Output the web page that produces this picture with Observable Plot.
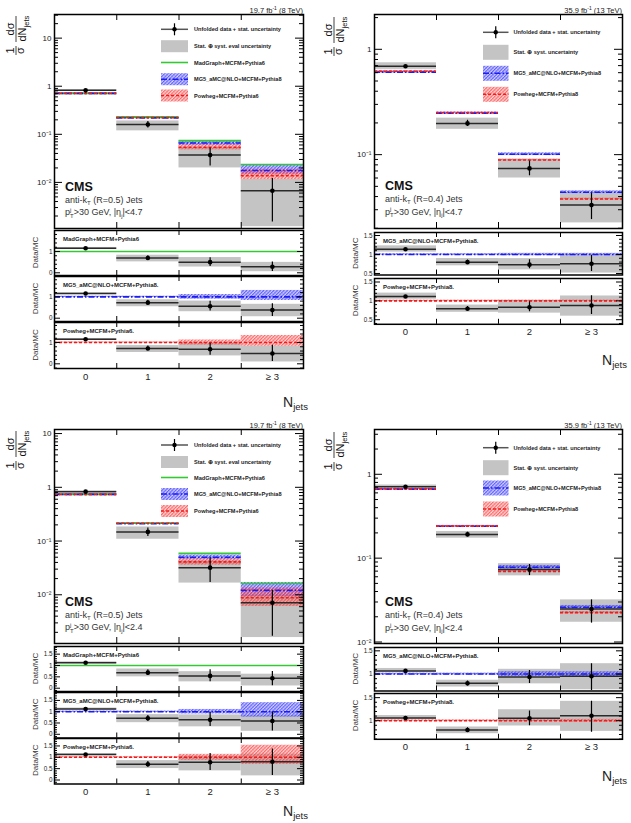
<!DOCTYPE html>
<html>
<head>
<meta charset="utf-8">
<script src="https://cdn.jsdelivr.net/npm/d3@7"></script>
<script src="https://cdn.jsdelivr.net/npm/@observablehq/plot@0.6"></script>
<style>
  html, body { margin: 0; padding: 0; background: #fff; }
  #fig { position: relative; width: 631px; height: 823px; overflow: hidden; background: #fff; }
  #fig svg { position: absolute; overflow: visible; }
</style>
</head>
<body>
<div id="fig"></div>
<script>
// ---------- jet multiplicity bins ----------
const nJets = [0, 1, 2, 3];
const binLabels = ["0", "1", "2", "≥ 3"];

// ---------- 8 TeV, anti-kT R=0.5, |eta|<4.7 ----------
const tlData     = [0.82, 0.160, 0.037, 0.0067];
const tlStatLo   = [0.805, 0.135, 0.022, 0.0015];
const tlStatHi   = [0.835, 0.185, 0.052, 0.0120];
const tlTotLo    = [0.795, 0.118, 0.020, 0.0012];
const tlTotHi    = [0.845, 0.190, 0.053, 0.0115];
const tlMadgraph = [0.71, 0.230, 0.074, 0.0235];
const tlMg5      = [0.71, 0.220, 0.066, 0.0177];
const tlMg5Lo    = [0.97, 0.97, 0.89, 0.83];
const tlMg5Hi    = [1.03, 1.03, 1.11, 1.30];
const tlPowheg   = [0.71, 0.222, 0.054, 0.0138];
const tlPowhegLo = [0.97, 0.97, 0.88, 0.83];
const tlPowhegHi = [1.03, 1.03, 1.12, 1.33];

// ---------- 13 TeV, anti-kT R=0.4, |eta|<4.7 ----------
const trData     = [0.69, 0.198, 0.074, 0.0332];
const trStatLo   = [0.683, 0.185, 0.063, 0.0242];
const trStatHi   = [0.697, 0.212, 0.087, 0.0430];
const trTotLo    = [0.645, 0.174, 0.060, 0.0225];
const trTotHi    = [0.745, 0.222, 0.090, 0.0428];
const trMg5      = [0.607, 0.248, 0.101, 0.0440];
const trMg5Lo    = [0.98, 0.98, 0.97, 0.97];
const trMg5Hi    = [1.02, 1.02, 1.03, 1.03];
const trPowheg   = [0.618, 0.250, 0.089, 0.0379];
const trPowhegLo = [0.98, 0.98, 0.98, 0.98];
const trPowhegHi = [1.02, 1.02, 1.02, 1.02];

// ---------- 8 TeV, anti-kT R=0.5, |eta|<2.4 ----------
const blData     = [0.83, 0.148, 0.032, 0.0071];
const blStatLo   = [0.815, 0.121, 0.017, 0.0017];
const blStatHi   = [0.845, 0.175, 0.048, 0.0120];
const blTotLo    = [0.80, 0.108, 0.0165, 0.0016];
const blTotHi    = [0.86, 0.183, 0.043, 0.0100];
const blMadgraph = [0.74, 0.216, 0.059, 0.0162];
const blMg5      = [0.74, 0.210, 0.050, 0.0121];
const blMg5Lo    = [0.97, 0.97, 0.90, 0.76];
const blMg5Hi    = [1.03, 1.03, 1.10, 1.40];
const blPowheg   = [0.74, 0.214, 0.041, 0.0088];
const blPowhegLo = [0.97, 0.97, 0.87, 0.69];
const blPowhegHi = [1.03, 1.03, 1.13, 1.53];

// ---------- 13 TeV, anti-kT R=0.4, |eta|<2.4 ----------
const brData     = [0.71, 0.192, 0.073, 0.0248];
const brStatLo   = [0.70, 0.180, 0.062, 0.0168];
const brStatHi   = [0.72, 0.204, 0.084, 0.0318];
const brTotLo    = [0.69, 0.173, 0.0615, 0.0172];
const brTotHi    = [0.745, 0.208, 0.086, 0.0318];
const brMg5      = [0.665, 0.240, 0.078, 0.0260];
const brMg5Lo    = [0.98, 0.98, 0.95, 0.95];
const brMg5Hi    = [1.02, 1.02, 1.05, 1.05];
const brPowheg   = [0.670, 0.241, 0.0695, 0.0224];
const brPowhegLo = [0.98, 0.98, 0.98, 0.97];
const brPowhegHi = [1.02, 1.02, 1.02, 1.03];

// ---------- labels ----------
const legend8  = ["Unfolded data + stat. uncertainty", "Stat. ⊕ syst. eval uncertainty",
                  "MadGraph+MCFM+Pythia6", "MG5_aMC@NLO+MCFM+Pythia8", "Powheg+MCFM+Pythia6"];
const legend13 = ["Unfolded data + stat. uncertainty", "Stat. ⊕ syst. uncertainty",
                  "MG5_aMC@NLO+MCFM+Pythia8", "Powheg+MCFM+Pythia8"];
const ratio8   = ["MadGraph+MCFM+Pythia6", "MG5_aMC@NLO+MCFM+Pythia8.", "Powheg+MCFM+Pythia6."];
const ratio13  = ["MG5_aMC@NLO+MCFM+Pythia8.", "Powheg+MCFM+Pythia8."];
const lumi8  = ["19.7 fb", "-1", " (8 TeV)"];
const lumi13 = ["35.9 fb", "-1", " (13 TeV)"];

// ---------- styling ----------
const FONT = "'Liberation Sans', Arial, Helvetica, sans-serif";
const GRAY = "#c4c4c4";
const GREEN = "#34c834";
const BLUE = "#1c1cf0";
const RED = "#f01c1c";
const DASH_BLUE = "6 2 1.5 2";
const DASH_RED = "3 2";

const fig = d3.select("#fig");
const binEdges = nJets.slice(1).map(n => n - 0.5);

function binRows(values, extra) {
  return nJets.map((n, i) => Object.assign({n, lo: n - 0.5, hi: n + 0.5, v: values[i]}, extra ? extra(i) : {}));
}

function logTicks([a, b]) {
  const major = [], minor = [];
  for (let e = Math.floor(Math.log10(a)); e <= Math.ceil(Math.log10(b)); e++) {
    for (let k = 1; k <= 9; k++) {
      const v = k * Math.pow(10, e);
      if (v < a || v > b) continue;
      (k === 1 ? major : minor).push(v);
    }
  }
  return {major, minor};
}
function linTicks([a, b], majorStep, minorStep) {
  const major = [], minor = [];
  const start = Math.ceil(a / minorStep - 1e-9);
  for (let j = start; j * minorStep <= b + 1e-9; j++) {
    const v = Math.round(j * minorStep * 1000) / 1000;
    const q = v / majorStep;
    (Math.abs(q - Math.round(q)) < 1e-6 ? major : minor).push(v);
  }
  return {major, minor};
}
const SUP = {"-": "⁻", "0": "⁰", "1": "¹", "2": "²", "3": "³", "4": "⁴", "5": "⁵", "6": "⁶", "7": "⁷", "8": "⁸", "9": "⁹"};
function decadeLabel(v) {
  const e = Math.round(Math.log10(v));
  if (e === 0) return "1";
  if (e === 1) return "10";
  return "10" + String(e).split("").map(c => SUP[c]).join("");
}

// inward ticks on all four sides (ROOT style)
function frameTicks(W, H, major, minor, lenMaj, lenMin, lenEdge) {
  const s = {stroke: "black", strokeWidth: 1};
  return [
    Plot.ruleY(major, {...s, insetRight: W - lenMaj}),
    Plot.ruleY(major, {...s, insetLeft: W - lenMaj}),
    Plot.ruleY(minor, {...s, insetRight: W - lenMin}),
    Plot.ruleY(minor, {...s, insetLeft: W - lenMin}),
    Plot.ruleX(binEdges, {...s, insetTop: H - lenEdge}),
    Plot.ruleX(binEdges, {...s, insetBottom: H - lenEdge})
  ];
}

function place(svg, left, top) {
  svg.style.left = left + "px";
  svg.style.top = top + "px";
  fig.node().appendChild(svg);
}

function dataRows(q, div) {
  return binRows(q.data.map((v, i) => v / div[i]), i => ({
    sLo: q.statLo[i] / div[i], sHi: q.statHi[i] / div[i],
    tLo: q.totLo[i] / div[i], tHi: q.totHi[i] / div[i]
  }));
}

function mainPanel(q) {
  const W = q.x[1] - q.x[0], H = q.main[1] - q.main[0];
  const m = {l: 36, r: 4, t: 4, b: 4};
  const ones = nJets.map(() => 1);
  const rows = dataRows(q, ones);
  const {major, minor} = logTicks(q.mainDomain);
  const marks = [Plot.rect(rows, {x1: "lo", x2: "hi", y1: "tLo", y2: "tHi", fill: GRAY, clip: true})];
  for (const mod of q.models) {
    if (!mod.relLo) continue;
    const mr = binRows(mod.values, i => ({bLo: mod.values[i] * mod.relLo[i], bHi: mod.values[i] * mod.relHi[i]}));
    marks.push(Plot.rect(mr, {x1: "lo", x2: "hi", y1: "bLo", y2: "bHi", fill: `url(#${mod.pattern})`, clip: true}));
  }
  for (const mod of q.models) {
    marks.push(Plot.ruleY(binRows(mod.values), {y: "v", x1: "lo", x2: "hi", stroke: mod.color,
      strokeWidth: 1.6, strokeDasharray: mod.dash || undefined}));
  }
  marks.push(
    Plot.ruleY(rows, {y: "v", x1: "lo", x2: "hi", stroke: "#2a2a2a", strokeWidth: 1.5}),
    Plot.ruleX(rows, {x: "n", y1: "sLo", y2: "sHi", stroke: "black", strokeWidth: 1.2, clip: true}),
    Plot.dot(rows, {x: "n", y: "v", r: 2.3, fill: "black"}),
    ...frameTicks(W, H, major, minor, 8, 4, 6),
    Plot.text(major, {y: d => d, text: d => decadeLabel(d), frameAnchor: "left", textAnchor: "end",
      dx: -3, fontSize: 8, fill: "#222"}),
    Plot.frame({stroke: "black", strokeWidth: 1.5})
  );
  const svg = Plot.plot({
    width: W + m.l + m.r, height: H + m.t + m.b,
    marginLeft: m.l, marginRight: m.r, marginTop: m.t, marginBottom: m.b,
    x: {domain: [-0.5, 3.5], axis: null},
    y: {type: "log", domain: q.mainDomain, axis: null},
    style: {fontFamily: FONT, background: "transparent", overflow: "visible"},
    marks
  });
  place(svg, q.x[0] - m.l, q.main[0] - m.t);
}

function ratioPanel(q, mod, k, last) {
  const [top, bottom] = q.ratios[k];
  const dom = q.ratioDomains[k];
  const W = q.x[1] - q.x[0], H = bottom - top;
  const m = {l: 36, r: 4, t: 2, b: last ? 24 : 2};
  const rows = dataRows(q, mod.values);
  const {major, minor} = linTicks(dom, q.ratioMajor, 0.1 * (q.ratioMajor >= 1 ? 2 : 1));
  const marks = [Plot.rect(rows, {x1: "lo", x2: "hi", y1: "tLo", y2: "tHi", fill: GRAY, clip: true})];
  if (mod.relLo) {
    const br = binRows(mod.values, i => ({bLo: mod.relLo[i], bHi: mod.relHi[i]}));
    marks.push(Plot.rect(br, {x1: "lo", x2: "hi", y1: "bLo", y2: "bHi", fill: `url(#${mod.pattern})`, clip: true}));
  }
  marks.push(
    Plot.ruleY([1], {stroke: mod.color, strokeWidth: 1.6, strokeDasharray: mod.dash || undefined}),
    Plot.ruleY(rows, {y: "v", x1: "lo", x2: "hi", stroke: "#2a2a2a", strokeWidth: 1.5, clip: true}),
    Plot.ruleX(rows, {x: "n", y1: "sLo", y2: "sHi", stroke: "black", strokeWidth: 1.2, clip: true}),
    Plot.dot(rows, {x: "n", y: "v", r: 2.3, fill: "black", clip: true}),
    ...frameTicks(W, H, major, minor, 6, 3, 5),
    Plot.text(q.ratioLabels, {y: d => d, text: d => String(d), frameAnchor: "left", textAnchor: "end",
      dx: -2, fontSize: 6.3, fill: "#222"}),
    Plot.frame({stroke: "black", strokeWidth: 1.5})
  );
  if (last) {
    marks.push(Plot.text(nJets, {x: d => d, text: d => binLabels[d], frameAnchor: "bottom", dy: 11,
      fontSize: 9.5, fill: "#222"}));
  }
  const svg = Plot.plot({
    width: W + m.l + m.r, height: H + m.t + m.b,
    marginLeft: m.l, marginRight: m.r, marginTop: m.t, marginBottom: m.b,
    x: {domain: [-0.5, 3.5], axis: null},
    y: {domain: dom, axis: null},
    style: {fontFamily: FONT, background: "transparent", overflow: "visible"},
    marks
  });
  place(svg, q.x[0] - m.l, top - m.t);
}

// ---------- panel configurations ----------
const quads = [
  { // 8 TeV |eta|<4.7
    x: [54, 303], main: [14, 228], mainDomain: [0.0011, 31],
    data: tlData, statLo: tlStatLo, statHi: tlStatHi, totLo: tlTotLo, totHi: tlTotHi,
    models: [
      {values: tlMadgraph, color: GREEN, dash: null},
      {values: tlMg5, relLo: tlMg5Lo, relHi: tlMg5Hi, color: BLUE, dash: DASH_BLUE, pattern: "hatchBlue"},
      {values: tlPowheg, relLo: tlPowhegLo, relHi: tlPowhegHi, color: RED, dash: DASH_RED, pattern: "hatchRed"}
    ],
    ratios: [[230, 275], [276, 321], [322, 368]],
    ratioDomains: [[-0.127, 1.986], [-0.155, 1.953], [-0.22, 1.94]],
    ratioMajor: 1, ratioLabels: [0, 1],
    legend: legend8, ratioText: ratio8, lumi: lumi8, R: "0.5", eta: "4.7",
    legendX: [161, 188, 194], legendY: [29.3, 46.2, 62.5, 79.2, 95.5], bandH: 12,
    cmsX: 65, cmsY: 190.5, titleX: 16, titleY: 55, njetsY: 407
  },
  { // 13 TeV |eta|<4.7
    x: [374, 622], main: [14, 228], mainDomain: [0.0199, 2.14],
    data: trData, statLo: trStatLo, statHi: trStatHi, totLo: trTotLo, totHi: trTotHi,
    models: [
      {values: trMg5, relLo: trMg5Lo, relHi: trMg5Hi, color: BLUE, dash: DASH_BLUE, pattern: "hatchBlue"},
      {values: trPowheg, relLo: trPowhegLo, relHi: trPowhegHi, color: RED, dash: DASH_RED, pattern: "hatchRed"}
    ],
    ratios: [[232, 274.5], [277.5, 323.3]],
    ratioDomains: [[0.46, 1.579], [0.378, 1.593]],
    ratioMajor: 0.5, ratioLabels: [0.5, 1, 1.5],
    legend: legend13, ratioText: ratio13, lumi: lumi13, R: "0.4", eta: "4.7",
    legendX: [483, 508.5, 513.5], legendY: [32.3, 52.3, 73.3, 94.3], bandH: 15,
    cmsX: 385, cmsY: 190, titleX: 334, titleY: 56, njetsY: 365
  },
  { // 8 TeV |eta|<2.4
    x: [54, 303], main: [429, 643], mainDomain: [0.00124, 11.9],
    data: blData, statLo: blStatLo, statHi: blStatHi, totLo: blTotLo, totHi: blTotHi,
    models: [
      {values: blMadgraph, color: GREEN, dash: null},
      {values: blMg5, relLo: blMg5Lo, relHi: blMg5Hi, color: BLUE, dash: DASH_BLUE, pattern: "hatchBlue"},
      {values: blPowheg, relLo: blPowhegLo, relHi: blPowhegHi, color: RED, dash: DASH_RED, pattern: "hatchRed"}
    ],
    ratios: [[646, 691], [691.5, 737], [737.5, 783]],
    ratioDomains: [[-0.145, 1.837], [-0.164, 1.85], [-0.176, 1.828]],
    ratioMajor: 0.5, ratioLabels: [0, 0.5, 1, 1.5],
    legend: legend8, ratioText: ratio8, lumi: lumi8, R: "0.5", eta: "2.4",
    legendX: [161, 188, 194], legendY: [445, 462, 477.5, 494, 511], bandH: 12,
    cmsX: 65, cmsY: 605.7, titleX: 16, titleY: 470, njetsY: 816
  },
  { // 13 TeV |eta|<2.4
    x: [374, 622], main: [429, 643], mainDomain: [0.0096, 3.42],
    data: brData, statLo: brStatLo, statHi: brStatHi, totLo: brTotLo, totHi: brTotHi,
    models: [
      {values: brMg5, relLo: brMg5Lo, relHi: brMg5Hi, color: BLUE, dash: DASH_BLUE, pattern: "hatchBlue"},
      {values: brPowheg, relLo: brPowhegLo, relHi: brPowhegHi, color: RED, dash: DASH_RED, pattern: "hatchRed"}
    ],
    ratios: [[647, 690.5], [692.5, 738.3]],
    ratioDomains: [[0.635, 1.572], [0.596, 1.59]],
    ratioMajor: 0.5, ratioLabels: [1, 1.5],
    legend: legend13, ratioText: ratio13, lumi: lumi13, R: "0.4", eta: "2.4",
    legendX: [483, 508.5, 513.5], legendY: [447.7, 467.7, 488, 509], bandH: 15,
    cmsX: 385, cmsY: 606, titleX: 334, titleY: 471, njetsY: 780.7
  }
];

for (const q of quads) {
  mainPanel(q);
  q.models.forEach((mod, k) => ratioPanel(q, mod, k, k === q.models.length - 1));
}

// ---------- text and legends drawn on top ----------
const ov = fig.append("svg").attr("width", 631).attr("height", 823)
  .style("left", "0px").style("top", "0px").style("pointer-events", "none")
  .attr("font-family", FONT);
const defs = ov.append("defs");
// fine diagonal hatching for the generator uncertainty bands
function hatch(id, line, bg) {
  const p = defs.append("pattern").attr("id", id).attr("patternUnits", "userSpaceOnUse")
    .attr("width", 2.4).attr("height", 2.4).attr("patternTransform", "rotate(45)");
  p.append("rect").attr("width", 2.4).attr("height", 2.4).attr("fill", bg);
  p.append("line").attr("x1", 0.6).attr("y1", 0).attr("x2", 0.6).attr("y2", 2.4)
    .attr("stroke", line).attr("stroke-width", 0.9);
  p.append("line").attr("x1", 0).attr("y1", 1.8).attr("x2", 2.4).attr("y2", 1.8)
    .attr("stroke", line).attr("stroke-width", 0.45).attr("stroke-opacity", 0.6);
}
hatch("hatchBlue", "rgba(40,40,255,0.8)", "rgba(130,130,255,0.3)");
hatch("hatchRed", "rgba(250,40,40,0.75)", "rgba(255,140,140,0.28)");

function rich(parent, x, y, parts, attrs = {}) {
  const t = parent.append("text").attr("x", x).attr("y", y);
  for (const [k, v] of Object.entries(attrs)) t.attr(k, v);
  for (const p of parts) {
    const s = t.append("tspan").text(p.t);
    if (p.dy) s.attr("dy", p.dy);
    if (p.dx) s.attr("dx", p.dx);
    if (p.size) s.attr("font-size", p.size);
  }
  return t;
}

function yTitle(cx, cy) {
  const g = ov.append("g").attr("transform", `translate(${cx},${cy}) rotate(-90)`)
    .attr("font-size", 11).attr("fill", "#111");
  g.append("text").attr("x", 4.5).attr("y", -2).attr("text-anchor", "middle").text("1");
  g.append("line").attr("x1", 0).attr("x2", 9).attr("y1", 0).attr("y2", 0).attr("stroke", "#111").attr("stroke-width", 0.8);
  g.append("text").attr("x", 4.5).attr("y", 8).attr("text-anchor", "middle").text("σ");
  g.append("text").attr("x", 26).attr("y", -2).attr("text-anchor", "middle").text("dσ");
  g.append("line").attr("x1", 13).attr("x2", 39).attr("y1", 0).attr("y2", 0).attr("stroke", "#111").attr("stroke-width", 0.8);
  rich(g, 13.5, 9.5, [{t: "dN"}, {t: "jets", dy: 3, size: 7.5}]);
}

function legend(q) {
  const [sx0, sx1, tx] = q.legendX;
  const sc = (sx0 + sx1) / 2, h = q.bandH;
  const kinds = q.models.length === 3 ? ["data", "gray", 0, 1, 2] : ["data", "gray", 0, 1];
  kinds.forEach((kind, i) => {
    const y = q.legendY[i];
    if (kind === "data") {
      ov.append("line").attr("x1", sx0).attr("x2", sx1).attr("y1", y).attr("y2", y).attr("stroke", "#555").attr("stroke-width", 1.5);
      ov.append("line").attr("x1", sc).attr("x2", sc).attr("y1", y - 6).attr("y2", y + 6).attr("stroke", "black").attr("stroke-width", 1.2);
      ov.append("circle").attr("cx", sc).attr("cy", y).attr("r", 2.2).attr("fill", "black");
    } else if (kind === "gray") {
      ov.append("rect").attr("x", sx0).attr("y", y - h / 2).attr("width", sx1 - sx0).attr("height", h).attr("fill", GRAY);
    } else {
      const mod = q.models[kind];
      if (mod.pattern) ov.append("rect").attr("x", sx0).attr("y", y - h / 2).attr("width", sx1 - sx0).attr("height", h).attr("fill", `url(#${mod.pattern})`);
      const l = ov.append("line").attr("x1", sx0).attr("x2", sx1).attr("y1", y).attr("y2", y).attr("stroke", mod.color).attr("stroke-width", 1.6);
      if (mod.dash) l.attr("stroke-dasharray", mod.dash);
    }
    ov.append("text").attr("x", tx).attr("y", y + 2).attr("font-size", 5.6).attr("font-weight", "bold")
      .attr("fill", "#222").text(q.legend[i]);
  });
}

for (const q of quads) {
  // luminosity and energy
  rich(ov, q.x[1], q.main[0] - 1.5, [{t: q.lumi[0]}, {t: q.lumi[1], dy: -3, size: 5}, {t: q.lumi[2], dy: 3}],
    {"font-size": 7.5, "text-anchor": "end", fill: "#222"});
  yTitle(q.titleX, q.titleY);
  legend(q);
  // CMS label block
  ov.append("text").attr("x", q.cmsX).attr("y", q.cmsY).attr("font-size", 12.5).attr("font-weight", "bold")
    .attr("fill", "#111").text("CMS");
  rich(ov, q.cmsX, q.cmsY + 12, [{t: "anti-k"}, {t: "T", dy: 2, size: 6}, {t: ` (R=${q.R}) Jets`, dy: -2}],
    {"font-size": 9, fill: "#333"});
  rich(ov, q.cmsX, q.cmsY + 24.5, [
    {t: "p"}, {t: "T", dy: 2.5, size: 6}, {t: "j", dx: -3.6, dy: -6, size: 6},
    {t: `>30 GeV, |η`, dx: 2.4, dy: 3.5}, {t: "j", dy: 2.5, size: 6}, {t: `|<${q.eta}`, dy: -2.5}
  ], {"font-size": 9, fill: "#333"});
  // ratio panel captions and axis titles
  q.ratios.forEach(([top, bottom], k) => {
    ov.append("text").attr("x", q.x[0] + 9).attr("y", top + 11).attr("font-size", 6).attr("font-weight", "bold")
      .attr("fill", "#222").text(q.ratioText[k]);
    ov.append("text").attr("transform", `translate(${q.x[0] - 16},${(top + bottom) / 2}) rotate(-90)`)
      .attr("text-anchor", "middle").attr("font-size", 8).attr("fill", "#333").text("Data/MC");
  });
  rich(ov, q.x[1] - 20, q.njetsY, [{t: "N", size: 14}, {t: "jets", dy: 3, size: 9.5}], {fill: "#222"});
}
</script>
</body>
</html>
